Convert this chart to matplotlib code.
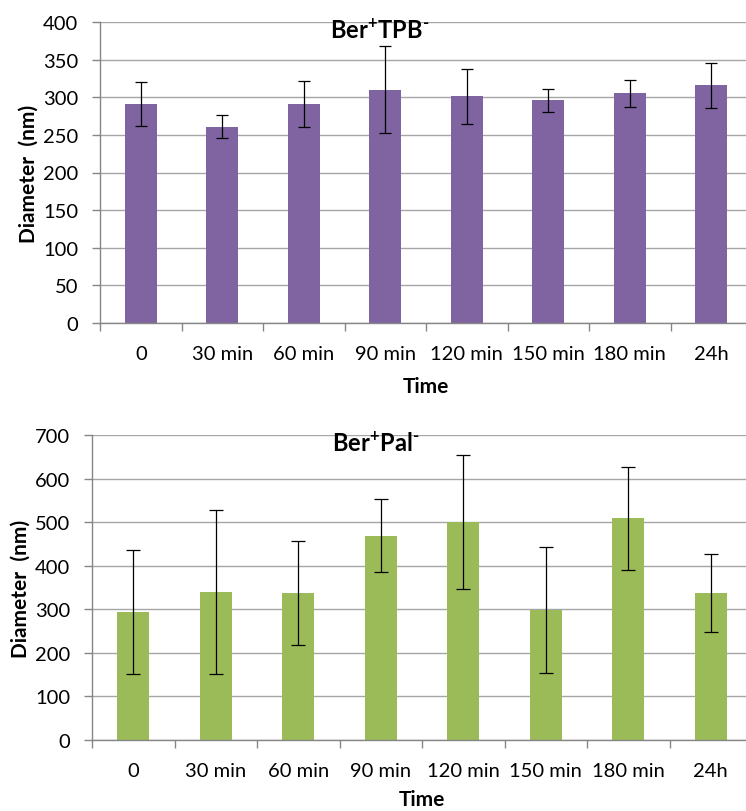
import matplotlib
matplotlib.use("Agg")
import matplotlib.pyplot as plt
import numpy as np

plt.rcParams['font.family'] = ['Lato', 'DejaVu Sans']
plt.rcParams['mathtext.fontset'] = 'custom'
plt.rcParams['mathtext.rm'] = 'Lato:bold'
plt.rcParams['mathtext.bf'] = 'Lato:bold'

categories = ["0", "30 min", "60 min", "90 min", "120 min", "150 min", "180 min", "24h"]

tpb_mean = [291, 261, 291, 310, 301, 296, 305, 316]
tpb_err = [29, 15.5, 31, 58, 37, 15.5, 18.5, 30]

pal_mean = [294, 340, 337, 469, 500, 298, 509, 337]
pal_err = [142, 188, 119, 83, 154, 145, 118, 90]

PURPLE = "#8064A2"
GREEN = "#9BBB59"
GRID = "#A6A6A6"
AXIS = "#868686"

fig = plt.figure(figsize=(7.46, 8.12), dpi=100)
W, H = 746.0, 812.0


def panel(rect_px, means, errs, color, ymax, ystep, title, title_xy, capsize,
          xlabelpad, ylabelpad):
    left, top, right, bottom = rect_px
    ax = fig.add_axes([left / W, 1 - bottom / H, (right - left) / W, (bottom - top) / H])
    x = np.arange(len(categories))
    ax.bar(x, means, width=0.39, color=color, zorder=2)
    ax.errorbar(x, means, yerr=errs, fmt="none", ecolor="black", elinewidth=0.9,
                capsize=capsize, capthick=0.9, zorder=3)
    ax.set_xlim(-0.5, len(categories) - 0.5)
    ax.set_ylim(0, ymax)
    ax.set_yticks(np.arange(0, ymax + 1, ystep))
    ax.yaxis.grid(True, color=GRID, linewidth=1.0, zorder=0)
    ax.set_axisbelow(True)
    for s in ("top", "right"):
        ax.spines[s].set_visible(False)
    for s in ("left", "bottom"):
        ax.spines[s].set_color(AXIS)
        ax.spines[s].set_linewidth(1.0)
    # boundary ticks between categories, labels at category centres
    ax.set_xticks(np.arange(-0.5, len(categories), 1.0))
    ax.set_xticklabels([])
    ax.set_xticks(x, minor=True)
    ax.set_xticklabels(categories, minor=True, fontsize=14.5)
    ax.tick_params(axis="x", which="major", length=6, width=1.0, color=AXIS, direction="out")
    ax.tick_params(axis="x", which="minor", length=0, pad=16)
    ax.tick_params(axis="y", length=5.5, width=1.0, color=AXIS, labelsize=14.5, pad=10)
    ax.set_xlabel("Time", fontsize=15, fontweight="bold", labelpad=xlabelpad)
    ax.set_ylabel("Diameter  (nm)", fontsize=15, fontweight="bold", labelpad=ylabelpad)
    fig.text(title_xy[0] / W, 1 - title_xy[1] / H, title, fontsize=17,
             fontweight="bold", ha="center", va="center")
    return ax


panel((100, 23, 752, 324), tpb_mean, tpb_err, PURPLE, 400, 50,
      r"Ber$^{\text{+}}$TPB$^{\text{-}}$", (380, 31), 4, 10, 3.5)
panel((92, 436, 752, 741), pal_mean, pal_err, GREEN, 700, 100,
      r"Ber$^{\text{+}}$Pal$^{\text{-}}$", (376, 444), 5, 7, 3.5)

fig.savefig("out.png", dpi=100)
